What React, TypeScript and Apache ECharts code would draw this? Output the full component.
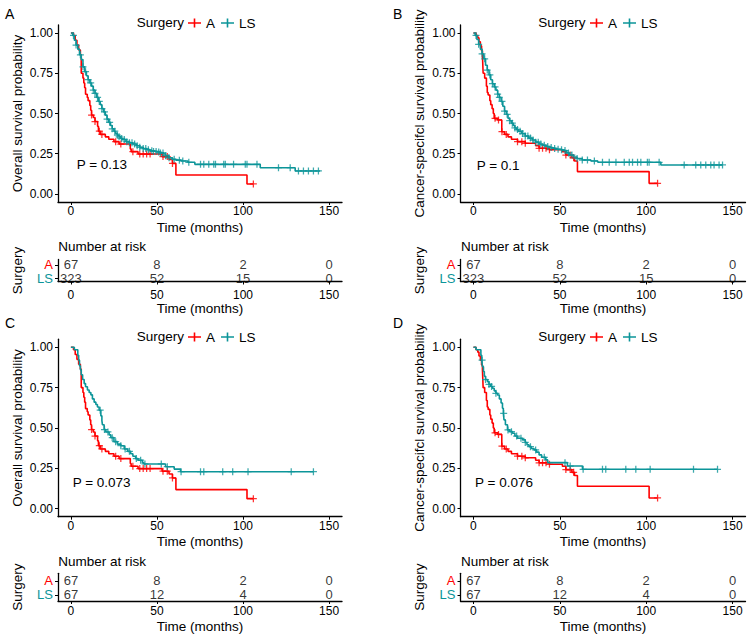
import React, { useEffect, useRef } from 'react';
import * as echarts from 'echarts';

// ---------- data ----------
const timeTicks = [0, 50, 100, 150];
const probTicks = [0, 0.25, 0.5, 0.75, 1];
const panelLetters = ['A', 'B', 'C', 'D'];
const pValues = ['P = 0.13', 'P = 0.1', 'P = 0.073', 'P = 0.076'];
const yTitles = [
  'Overall survival probability',
  'Cancer-specifcl survival probability',
  'Overall survival probability',
  'Cancer-specifcl survival probability',
];
const groupRows = [
  { name: 'A', row: 1 },
  { name: 'LS', row: 0 },
];

// group A, overall survival  [time, survival]
const redOS = [
  [0, 1], [1.5, 0.985], [2.5, 0.955], [3.5, 0.925], [4.5, 0.895], [5.5, 0.865], [6, 0.75], [7, 0.72],
  [7.5, 0.69], [8, 0.66], [8.5, 0.62], [9.5, 0.6], [10, 0.58], [11, 0.55], [11.5, 0.52], [12, 0.49],
  [13, 0.475], [14, 0.45], [15.5, 0.42], [16, 0.39], [17, 0.37], [20, 0.355], [22, 0.34], [25, 0.325],
  [28, 0.31], [34.5, 0.28], [35, 0.263], [39, 0.248], [53, 0.232], [57, 0.215], [59, 0.19], [61, 0.118],
  [102.3, 0.062], [106, 0.062],
];
const redOSCensor = [12, 14, 16.5, 18, 26, 29, 36, 40, 42, 44, 46, 53.5, 56, 59, 106];

// group A, cancer-specific survival
const redCSS = [
  [0, 1], [1.5, 0.985], [2.5, 0.97], [3.2, 0.946], [4, 0.92], [4.7, 0.89], [5.2, 0.863], [5.6, 0.75],
  [6.5, 0.72], [7.5, 0.67], [8, 0.63], [8.5, 0.615], [9.5, 0.58], [10, 0.555], [10.8, 0.53], [11.5, 0.5],
  [12, 0.47], [14, 0.46], [16.4, 0.387], [18, 0.37], [20, 0.355], [22, 0.34], [25.5, 0.325], [30, 0.315],
  [36, 0.3], [38, 0.284], [44, 0.275], [51.5, 0.263], [53.5, 0.242], [57, 0.225], [58.5, 0.205],
  [60.2, 0.139], [101.7, 0.066], [106.6, 0.066],
];
const redCSSCensor = [12.5, 14.5, 16.5, 19, 25.5, 28, 30, 38, 40, 42, 44, 53.5, 56, 58, 106.6];

// LS, full cohort, overall survival
const tealOSFull = [
  [0, 1], [1, 0.985], [2, 0.955], [3, 0.925], [4, 0.9], [5, 0.865], [6, 0.835], [7, 0.79], [8, 0.76],
  [9, 0.735], [10, 0.71], [11, 0.69], [12, 0.67], [13, 0.645], [14, 0.625], [15, 0.6], [16, 0.575],
  [17, 0.555], [18, 0.53], [19, 0.51], [20, 0.49], [21, 0.465], [22, 0.445], [23, 0.425], [24, 0.405],
  [25, 0.39], [26, 0.375], [27, 0.365], [28, 0.355], [29, 0.345], [30, 0.338], [32, 0.325], [34, 0.318],
  [36, 0.31], [38, 0.3], [40, 0.29], [42, 0.282], [44, 0.275], [46, 0.268], [48, 0.264], [50, 0.26],
  [52, 0.255], [54, 0.248], [55, 0.238], [57, 0.225], [59, 0.215], [61, 0.21], [64, 0.205], [68, 0.197],
  [72, 0.184], [110, 0.163], [130.3, 0.143], [144.8, 0.143],
];
const tealOSFullCensor = [
  1.5, 3, 5.5, 7, 8.5, 10, 11.5, 13, 14, 15.5, 16.5, 18, 19.5, 21, 22.5, 24, 25.5, 27, 28, 29.5, 31, 32.5,
  34, 35.5, 37, 38.5, 40, 42, 43.5, 45, 47, 48, 49.5, 51, 52, 53.5, 55, 57, 60, 63, 65, 68.5, 75.3, 77.2,
  80.1, 83, 84, 88.8, 89.7, 94.5, 101.3, 102.3, 108.1, 120.6, 127.4, 132.2, 135.1, 138, 140.9, 143.8,
];

// LS, full cohort, cancer-specific survival
const tealCSSFull = [
  [0, 1], [1, 0.985], [2, 0.96], [3, 0.93], [4, 0.9], [5, 0.87], [6, 0.84], [7, 0.8], [8, 0.77],
  [9, 0.74], [10, 0.71], [11, 0.685], [12, 0.665], [13, 0.645], [14, 0.62], [15, 0.6], [16, 0.575],
  [17, 0.545], [18, 0.515], [19, 0.495], [20, 0.47], [21, 0.455], [22, 0.44], [23, 0.425], [24, 0.41],
  [25, 0.4], [26, 0.39], [28, 0.375], [30, 0.36], [32, 0.347], [34, 0.335], [36, 0.322], [38, 0.31],
  [40, 0.303], [42, 0.295], [44, 0.288], [46, 0.283], [48, 0.278], [50, 0.275], [52, 0.27], [54, 0.255],
  [55.5, 0.242], [58, 0.23], [60, 0.22], [63, 0.211], [68, 0.205], [72, 0.197], [108.5, 0.18], [144.2, 0.18],
];
const tealCSSFullCensor = [
  1.5, 3, 5, 6.5, 8, 9.5, 11, 12.5, 14, 15, 16.5, 18, 19.5, 21, 22.5, 24, 25.5, 27, 28.5, 30, 31.5, 33,
  34.5, 36, 37.5, 39, 41, 43, 45, 47, 49, 51, 53, 55, 57, 60, 63, 66, 70, 74.7, 78.6, 82.5, 87.3, 90.2,
  92.1, 95, 96.9, 100.7, 101.7, 107.5, 122, 128.7, 131.6, 134.5, 137.4, 139.3, 142.2, 144.2,
];

// LS, matched cohort, overall survival
const tealOSMatched = [
  [0, 1], [2, 0.985], [4, 0.95], [4.5, 0.92], [5, 0.885], [5.5, 0.86], [6, 0.83], [6.8, 0.8], [7.7, 0.775],
  [8.5, 0.755], [9.6, 0.735], [10.6, 0.72], [11.6, 0.705], [12.5, 0.68], [13.5, 0.66], [14.5, 0.645],
  [15.4, 0.63], [16.4, 0.61], [17.4, 0.575], [18, 0.545], [18.3, 0.52], [19.3, 0.49], [20.3, 0.475],
  [22.2, 0.457], [23.2, 0.44], [25, 0.415], [27, 0.4], [29, 0.39], [31, 0.37], [33, 0.355], [34.7, 0.34],
  [36, 0.325], [37.6, 0.31], [39, 0.3], [41.5, 0.285], [42.4, 0.277], [55, 0.26], [60, 0.245],
  [63.7, 0.229], [141, 0.229],
];
const tealOSMatchedCensor = [17, 19.5, 21.5, 24, 26, 29, 31.5, 34, 38, 40.5, 43, 52.5, 56, 64, 75.3, 77.2, 88.2, 94, 102.9, 128, 140.9];

// LS, matched cohort, cancer-specific survival
const tealCSSMatched = [
  [0, 1], [1.5, 0.985], [4.3, 0.95], [4.8, 0.92], [5.2, 0.88], [5.8, 0.85], [6.3, 0.82], [7, 0.8],
  [8.1, 0.787], [9, 0.77], [10, 0.757], [11, 0.746], [12, 0.73], [13, 0.715], [13.9, 0.704], [15, 0.68],
  [16, 0.655], [16.8, 0.622], [17.3, 0.59], [17.7, 0.55], [18.5, 0.52], [19.7, 0.488], [21, 0.477],
  [22.6, 0.467], [24, 0.45], [25.5, 0.436], [28.4, 0.426], [30, 0.41], [31, 0.395], [32.2, 0.384],
  [33.5, 0.373], [35.1, 0.364], [36.5, 0.35], [38, 0.333], [39.5, 0.318], [41.9, 0.302], [43, 0.285],
  [54.4, 0.264], [63.1, 0.244], [141.3, 0.244],
];
const tealCSSMatchedCensor = [5, 7, 9, 10.5, 13, 17.5, 20, 22, 25, 27.5, 30, 33, 36, 41, 53, 56, 63.5, 74.7, 76.6, 88.2, 94, 102.3, 127.4, 141.3];

// numbers at risk at timeTicks
const riskAFull = [67, 8, 2, 0];
const riskLSFull = [323, 52, 15, 0];
const riskAMatched = [67, 8, 2, 0];
const riskLSMatched = [67, 12, 4, 0];

// ---------- styling / layout ----------
const RED = '#FF0000';
const TEAL = '#0C9599';
const GROUP_COLORS: Record<string, string> = { A: RED, LS: TEAL };
const FONT = '"Liberation Sans", Arial, Helvetica, sans-serif';
const PLUS = 'path://M4.1,0 H5.9 V4.1 H10 V5.9 H5.9 V10 H4.1 V5.9 H0 V4.1 H4.1 Z';
const LEG_ICON = 'path://M0,3.8 H5.7 V0 H7.3 V3.8 H13 V5.2 H7.3 V9 H5.7 V5.2 H0 Z';

const panels = [
  { red: redOS, redC: redOSCensor, teal: tealOSFull, tealC: tealOSFullCensor, rA: riskAFull, rL: riskLSFull },
  { red: redCSS, redC: redCSSCensor, teal: tealCSSFull, tealC: tealCSSFullCensor, rA: riskAFull, rL: riskLSFull },
  { red: redOS, redC: redOSCensor, teal: tealOSMatched, tealC: tealOSMatchedCensor, rA: riskAMatched, rL: riskLSMatched },
  { red: redCSS, redC: redCSSCensor, teal: tealCSSMatched, tealC: tealCSSMatchedCensor, rA: riskAMatched, rL: riskLSMatched },
];

const layout = [
  { plot: { left: 58, top: 25, width: 284, height: 177 }, risk: { left: 58, top: 259.5, width: 284, height: 22 }, riskY: [-0.222, 1.407], riskMargin: 7, legend: { left: 188, top: 16 }, surg: [136.7, 22.7], letter: [5, 14], p: [76.7, 164.3], nar: [58.3, 246] },
  { plot: { left: 460.5, top: 25, width: 285, height: 177 }, risk: { left: 460.5, top: 259.5, width: 285, height: 22 }, riskY: [-0.222, 1.407], riskMargin: 7, legend: { left: 590, top: 16 }, surg: [538.3, 22.7], letter: [393, 14], p: [476.7, 165], nar: [461, 246] },
  { plot: { left: 58, top: 339.2, width: 284, height: 177.5 }, risk: { left: 58, top: 573.3, width: 284, height: 27.7 }, riskY: [-0.443, 1.536], riskMargin: 4, legend: { left: 188, top: 330 }, surg: [136.7, 336.7], letter: [5, 323], p: [72.7, 482.7], nar: [58.3, 561.7] },
  { plot: { left: 460.5, top: 339.2, width: 285, height: 177.5 }, risk: { left: 460.5, top: 573.3, width: 285, height: 27.7 }, riskY: [-0.443, 1.536], riskMargin: 4, legend: { left: 590, top: 330 }, surg: [538.3, 336.7], letter: [393, 323], p: [475, 482.7], nar: [461, 561.7] },
];

const survAt = (curve: number[][], t: number) => {
  let s = curve[0][1];
  for (const [tt, ss] of curve) {
    if (tt <= t) s = ss;
    else break;
  }
  return s;
};

const axisLineStyle = { color: '#000', width: 1.3 };

function buildOption() {
  const grid: any[] = [];
  const xAxis: any[] = [];
  const yAxis: any[] = [];
  const series: any[] = [];
  const legend: any[] = [];
  const graphic: any[] = [];

  const xBase = (margin: number) => ({
    type: 'value',
    min: -7.5,
    max: 157.5,
    splitLine: { show: false },
    axisLine: { show: true, onZero: false, lineStyle: axisLineStyle },
    axisTick: { show: true, length: 3, customValues: timeTicks, lineStyle: { color: '#000' } },
    axisLabel: { customValues: timeTicks, color: '#000', fontSize: 12, fontFamily: FONT, margin, showMinLabel: true, showMaxLabel: true },
    name: 'Time (months)',
    nameLocation: 'middle',
    nameGap: 18,
    nameTextStyle: { color: '#000', fontSize: 13.5, fontFamily: FONT },
  });

  // plot grids: yAxis 0..3
  layout.forEach((L, i) => {
    grid.push({ ...L.plot, containLabel: false });
    xAxis.push({ ...xBase(3), gridIndex: i });
    yAxis.push({
      type: 'value',
      gridIndex: i,
      min: -0.05,
      max: 1.05,
      splitLine: { show: false },
      axisLine: { show: true, onZero: false, lineStyle: axisLineStyle },
      axisTick: { show: true, length: 3, customValues: probTicks, lineStyle: { color: '#000' } },
      axisLabel: {
        customValues: probTicks,
        color: '#000',
        fontSize: 12,
        fontFamily: FONT,
        margin: 5,
        showMinLabel: true,
        showMaxLabel: true,
        formatter: (v: number) => v.toFixed(2),
      },
      name: yTitles[i],
      nameLocation: 'middle',
      nameGap: 34,
      nameTextStyle: { color: '#000', fontSize: 13.5, fontFamily: FONT },
    });
  });
  // risk grids: one y axis per group row (4..7 = A row with axis line, 8..11 = LS row)
  layout.forEach((L, i) => {
    grid.push({ ...L.risk, containLabel: false });
    xAxis.push({ ...xBase(L.riskMargin), gridIndex: 4 + i });
  });
  groupRows.forEach((g, gi) => {
    layout.forEach((L, i) => {
      yAxis.push({
        type: 'value',
        gridIndex: 4 + i,
        position: 'left',
        offset: 0,
        min: L.riskY[0],
        max: L.riskY[1],
        splitLine: { show: false },
        axisLine: { show: gi === 0, onZero: false, lineStyle: axisLineStyle },
        axisTick: { show: true, length: 3, customValues: [g.row], lineStyle: { color: '#000' } },
        axisLabel: {
          customValues: [g.row],
          margin: 5,
          showMinLabel: true,
          showMaxLabel: true,
          color: GROUP_COLORS[g.name],
          fontSize: 13,
          fontFamily: FONT,
          formatter: () => g.name,
        },
        name: gi === 0 ? 'Surgery' : '',
        nameLocation: 'middle',
        nameGap: 34,
        nameTextStyle: { color: '#000', fontSize: 13.5, fontFamily: FONT },
      });
    });
  });

  panels.forEach((P, i) => {
    const L = layout[i];
    series.push({
      type: 'line', name: 'A', xAxisIndex: i, yAxisIndex: i, step: 'end', symbol: 'none', showSymbol: false,
      data: P.red, lineStyle: { color: RED, width: 1.6 }, itemStyle: { color: RED }, silent: true, z: 3,
    });
    series.push({
      type: 'line', name: 'LS', xAxisIndex: i, yAxisIndex: i, step: 'end', symbol: 'none', showSymbol: false,
      data: P.teal, lineStyle: { color: TEAL, width: 1.6 }, itemStyle: { color: TEAL }, silent: true, z: 4,
    });
    series.push({
      type: 'scatter', name: 'A', xAxisIndex: i, yAxisIndex: i, symbol: PLUS, symbolSize: 7,
      itemStyle: { color: RED }, data: P.redC.map((t) => [t, survAt(P.red, t)]), silent: true, z: 3,
    });
    series.push({
      type: 'scatter', name: 'LS', xAxisIndex: i, yAxisIndex: i, symbol: PLUS, symbolSize: 7,
      itemStyle: { color: TEAL }, data: P.tealC.map((t) => [t, survAt(P.teal, t)]), silent: true, z: 4,
    });
    const riskData = timeTicks
      .map((t, k) => [t, 1, P.rA[k]])
      .concat(timeTicks.map((t, k) => [t, 0, P.rL[k]]));
    series.push({
      type: 'scatter', name: 'risk' + i, xAxisIndex: 4 + i, yAxisIndex: 4 + i, symbolSize: 1,
      itemStyle: { color: 'rgba(0,0,0,0)' }, silent: true,
      data: riskData,
      labelLayout: { hideOverlap: false },
      label: {
        show: true, position: 'inside', color: '#000', fontSize: 13, fontFamily: FONT, lineHeight: 12,
        formatter: (p: any) => String(p.value[2]),
      },
    });

    legend.push({
      left: L.legend.left, top: L.legend.top, padding: 0, itemWidth: 13, itemHeight: 9, itemGap: 6,
      selectedMode: false,
      textStyle: { color: '#000', fontSize: 13.5, fontFamily: FONT },
      data: [
        { name: 'A', icon: LEG_ICON, itemStyle: { color: RED } },
        { name: 'LS', icon: LEG_ICON, itemStyle: { color: TEAL } },
      ],
    });

    const txt = (text: string, x: number, y: number, size: number) => ({
      type: 'text', x, y, silent: true,
      style: { text, fill: '#000', fontSize: size, fontFamily: FONT, verticalAlign: 'middle', align: 'left' },
    });
    graphic.push(txt(panelLetters[i], L.letter[0], L.letter[1], 14));
    graphic.push(txt('Surgery', L.surg[0], L.surg[1], 13.5));
    graphic.push(txt(pValues[i], L.p[0], L.p[1], 13.5));
    graphic.push(txt('Number at risk', L.nar[0], L.nar[1], 13.5));
  });

  return {
    animation: false,
    backgroundColor: '#fff',
    textStyle: { fontFamily: FONT },
    grid, xAxis, yAxis, series, legend, graphic,
  };
}

export default function App() {
  const ref = useRef<HTMLDivElement>(null);
  useEffect(() => {
    document.body.style.margin = '0';
    const chart = echarts.init(ref.current!, undefined, { renderer: 'svg' });
    chart.setOption(buildOption() as any);
    return () => chart.dispose();
  }, []);
  return <div ref={ref} style={{ width: 749, height: 641 }} />;
}
